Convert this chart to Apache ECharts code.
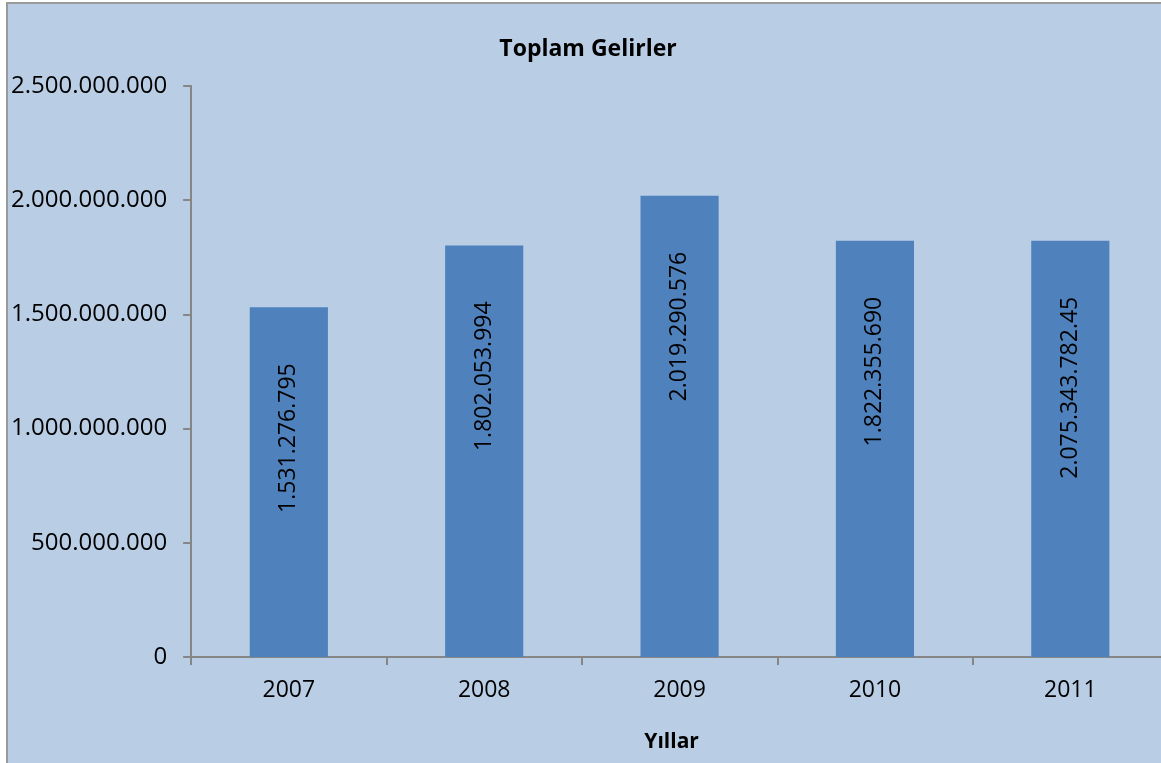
<!DOCTYPE html>
<html>
<head>
<meta charset="utf-8">
<script src="https://cdn.jsdelivr.net/npm/echarts@6/dist/echarts.min.js"></script>
<style>
  html, body { margin: 0; padding: 0; background: #ffffff; overflow: hidden; }
  #chartbox {
    position: absolute;
    left: 6px;
    top: 2px;
    border-left: 2px solid #9a9a9a;
    border-top: 2px solid #9a9a9a;
  }
  #main { width: 1160px; height: 770px; }
</style>
</head>
<body>
<div id="chartbox"><div id="main"></div></div>
<script>
// veriler
var years = ["2007", "2008", "2009", "2010", "2011"];
// bar heights as drawn in the picture (2011 bar is drawn at the 2010 height)
var gelirler = [1531276795, 1802053994, 2019290576, 1822355690, 1822355690];
// labels as written on the bars
var barLabels = ["1.531.276.795", "1.802.053.994", "2.019.290.576", "1.822.355.690", "2.075.343.782.45"];
var yTicks = [0, 500000000, 1000000000, 1500000000, 2000000000, 2500000000];

var fontName = "Open Sans";

function noktali(v) {
  return String(v).replace(/\B(?=(\d{3})+(?!\d))/g, ".");
}

var myChart = echarts.init(document.getElementById("main"));
var option = {
  backgroundColor: "#B9CDE5",
  animation: false,
  textStyle: { fontFamily: fontName },
  title: {
    text: "Toplam Gelirler",
    left: "center",
    top: 29,
    textStyle: { fontFamily: fontName, fontWeight: "bold", fontSize: 23, color: "#000" }
  },
  grid: { left: 183, right: 0, top: 82, bottom: 117 },
  xAxis: {
    type: "category",
    data: years,
    name: "Yıllar",
    nameLocation: "middle",
    nameGap: 75,
    nameTextStyle: { fontFamily: fontName, fontWeight: "bold", fontSize: 21, color: "#000", padding: [0, 16, 0, 0] },
    axisLine: { lineStyle: { color: "#868686", width: 2 } },
    axisTick: { show: true, length: 8, lineStyle: { color: "#868686", width: 2 } },
    axisLabel: { fontFamily: fontName, fontSize: 23, color: "#000", margin: 22 }
  },
  yAxis: {
    type: "value",
    min: yTicks[0],
    max: yTicks[yTicks.length - 1],
    interval: yTicks[1] - yTicks[0],
    axisLine: { show: true, lineStyle: { color: "#868686", width: 2 } },
    axisTick: { show: true, length: 8, lineStyle: { color: "#868686", width: 2 } },
    splitLine: { show: false },
    axisLabel: {
      fontFamily: fontName,
      fontSize: 24,
      color: "#000",
      margin: 24,
      formatter: function (v) { return noktali(v); }
    }
  },
  series: [
    {
      type: "bar",
      data: gelirler,
      barWidth: "40%",
      itemStyle: { color: "#4F81BD" },
      label: {
        show: true,
        position: "insideTop",
        distance: 56,
        rotate: 90,
        align: "right",
        verticalAlign: "middle",
        fontFamily: fontName,
        fontSize: 23,
        color: "#000",
        formatter: function (p) { return barLabels[p.dataIndex]; }
      }
    }
  ]
};
myChart.setOption(option);
</script>
</body>
</html>
